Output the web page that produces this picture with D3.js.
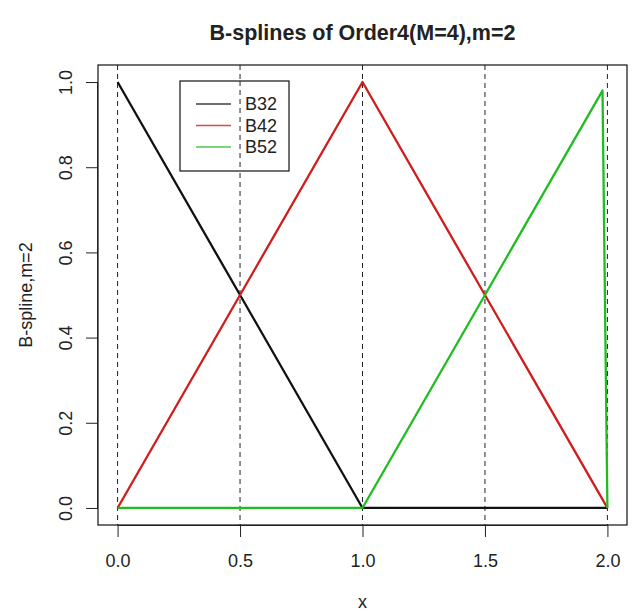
<!DOCTYPE html>
<html>
<head>
<meta charset="utf-8">
<script src="https://cdn.jsdelivr.net/npm/d3@7"></script>
<style>
  html, body { margin: 0; padding: 0; background: #fff; }
  svg text { font-family: "Liberation Sans", Arial, sans-serif; fill: #222; }
</style>
</head>
<body>
<svg id="chart" width="632" height="611"></svg>
<script>
// Evaluation grid and linear B-spline values (order M=4, m=2)
const xGrid = [0, 0.5, 1, 1.5, 1.98, 2];
const B32 = [1, 0.5, 0, 0, 0, 0];
const B42 = [0, 0.5, 1, 0.5, 0.02, 0];
const B52 = [0, 0, 0, 0.5, 0.98, 0];

const seriesNames = ["B32", "B42", "B52"];
const seriesColors = ["#111111", "#d01c1c", "#20bd20"];
const knots = [0, 0.5, 1, 1.5, 2];
const xTicks = [0, 0.5, 1, 1.5, 2];
const yTicks = [0, 0.2, 0.4, 0.6, 0.8, 1.0];

const FONT = "Liberation Sans, Arial, sans-serif";
const svg = d3.select("#chart");
const box = { left: 98, right: 627, top: 65, bottom: 525 };

// R-style 4% padding around the data range
const x = d3.scaleLinear().domain([-0.08, 2.08]).range([box.left, box.right]);
const y = d3.scaleLinear().domain([-0.04, 1.04]).range([box.bottom, box.top]);

// knot markers
svg.append("g").selectAll("line").data(knots).join("line")
  .attr("x1", d => x(d)).attr("x2", d => x(d))
  .attr("y1", box.top).attr("y2", box.bottom)
  .attr("stroke", "#222").attr("stroke-width", 1)
  .attr("stroke-dasharray", "5,4");

// curves
const line = d3.line().x(d => x(d[0])).y(d => y(d[1]));
[B32, B42, B52].forEach((vals, i) => {
  svg.append("path")
    .datum(xGrid.map((xv, j) => [xv, vals[j]]))
    .attr("d", line)
    .attr("fill", "none")
    .attr("stroke", seriesColors[i])
    .attr("stroke-width", 2.3)
    .attr("stroke-linejoin", "round");
});

// frame
svg.append("rect")
  .attr("x", box.left).attr("y", box.top)
  .attr("width", box.right - box.left).attr("height", box.bottom - box.top)
  .attr("fill", "none").attr("stroke", "#111").attr("stroke-width", 1.2);

// x axis
const xAxis = d3.axisBottom(x).tickValues(xTicks)
  .tickFormat(d3.format(".1f")).tickSize(12);
const gx = svg.append("g").attr("transform", `translate(0,${box.bottom})`).call(xAxis);
gx.select(".domain").attr("d", `M${x(0)},0.5H${x(2)}`).attr("stroke", "#222");
gx.selectAll(".tick line").attr("stroke", "#222");
gx.selectAll("text").attr("y", 42).attr("dy", null)
  .attr("font-size", 18).style("font-family", FONT).attr("fill", "#222");

// y axis with vertical tick labels
const yAxis = d3.axisLeft(y).tickValues(yTicks)
  .tickFormat(d3.format(".1f")).tickSize(12);
const gy = svg.append("g").attr("transform", `translate(${box.left},0)`).call(yAxis);
gy.select(".domain").attr("d", `M-0.5,${y(0)}V${y(1)}`).attr("stroke", "#222");
gy.selectAll(".tick line").attr("stroke", "#222");
gy.selectAll("text")
  .attr("x", null).attr("dy", null)
  .attr("transform", "translate(-26,0) rotate(-90)")
  .attr("text-anchor", "middle")
  .attr("font-size", 18).style("font-family", FONT).attr("fill", "#222");

// title and axis titles
svg.append("text")
  .attr("x", (box.left + box.right) / 2).attr("y", 40)
  .attr("text-anchor", "middle").attr("font-size", 21.5).attr("font-weight", "bold")
  .text("B-splines of Order4(M=4),m=2");
svg.append("text")
  .attr("x", (box.left + box.right) / 2).attr("y", 608)
  .attr("text-anchor", "middle").attr("font-size", 18)
  .text("x");
svg.append("text")
  .attr("transform", `translate(32,${(box.top + box.bottom) / 2}) rotate(-90)`)
  .attr("text-anchor", "middle").attr("font-size", 18)
  .text("B-spline,m=2");

// legend
const lg = svg.append("g");
lg.append("rect").attr("x", 180).attr("y", 81).attr("width", 109).attr("height", 90)
  .attr("fill", "#fff").attr("stroke", "#111").attr("stroke-width", 1.2);
seriesNames.forEach((name, i) => {
  const ly = 104 + i * 21.5;
  lg.append("line").attr("x1", 196).attr("x2", 231).attr("y1", ly).attr("y2", ly)
    .attr("stroke", seriesColors[i]).attr("stroke-width", 1.4).attr("opacity", 0.8);
  lg.append("text").attr("x", 245).attr("y", ly).attr("dy", "0.36em")
    .attr("font-size", 18).text(name);
});
// knot line passes over the legend box
lg.append("line").attr("x1", x(0.5)).attr("x2", x(0.5)).attr("y1", 81).attr("y2", 171)
  .attr("stroke", "#222").attr("stroke-width", 1).attr("stroke-dasharray", "5,4");
</script>
</body>
</html>
